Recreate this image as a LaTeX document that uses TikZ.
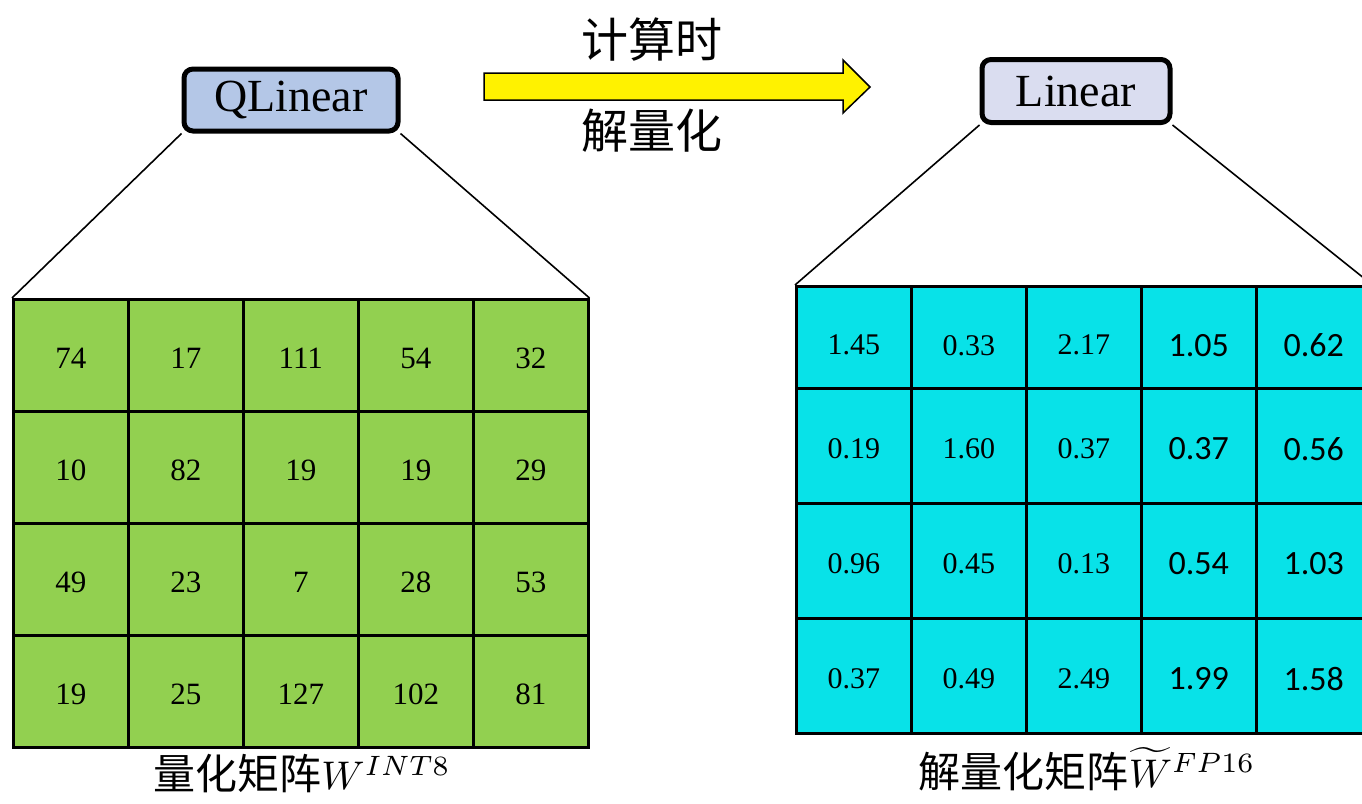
\documentclass[tikz,border=0pt]{standalone}
\usepackage{graphicx}
\usepackage{fontspec}
\newfontfamily\cjk{Noto Sans CJK SC}
\newfontfamily\tnr{Liberation Serif}
\newfontfamily\carl{Carlito}
\definecolor{matgreen}{RGB}{146,208,80}
\definecolor{matcyan}{RGB}{8,226,232}
\definecolor{qblue}{RGB}{180,199,231}
\definecolor{lblue}{RGB}{218,221,240}
\newcommand{\bigmath}[1]{{\fontsize{10}{12}\selectfont\scalebox{4.0}{$#1$}}}
\begin{document}
\begin{tikzpicture}[x=1pt,y=-1pt,
  cellbox/.style={draw, line width=2.5pt, inner sep=0pt, anchor=north west, minimum width=115pt},
  celltext/.style={inner sep=0pt},
  rbox/.style={draw, line width=5pt, rounded corners=9pt, inner sep=0pt, font=\tnr\fontsize{46}{46}\selectfont},
  conn/.style={line width=1.6pt},
  cjklabel/.style={font=\cjk\fontsize{47}{47}\selectfont, inner sep=0pt},
  botlabel/.style={font=\cjk\fontsize{42}{42}\selectfont, inner sep=0pt}]
\clip (0,0) rectangle (1362,803);
% left matrix
\foreach \vals [count=\r] in {{74,17,111,54,32},{10,82,19,19,29},{49,23,7,28,53},{19,25,127,102,81}}{
  \foreach \v [count=\c] in \vals {
    \node[cellbox, fill=matgreen, minimum height=112pt]
      (L-\r-\c) at ({12+115*(\c-1)},{298+112*(\r-1)}) {};
    \node[celltext, font=\tnr\fontsize{31}{31}\selectfont] (Lt-\r-\c) at ([yshift=-3pt]L-\r-\c.center) {\v};
  }
}
% right matrix
\foreach \top/\h/\dy/\vals [count=\r] in {285/102/8/{1.45,0.33,2.17,1.05,0.62},387/115/3/{0.19,1.60,0.37,0.37,0.56},502/115/3/{0.96,0.45,0.13,0.54,1.03},617/115/3/{0.37,0.49,2.49,1.99,1.58}}{
  \foreach \v [count=\c] in \vals {
    \node[cellbox, fill=matcyan, minimum height=\h pt]
      (R-\r-\c) at ({795+115*(\c-1)},\top) {};
    \node[celltext] (Rt-\r-\c) at ([yshift=-\dy pt]R-\r-\c.center) {\ifnum\c>3 \carl\fontsize{34}{34}\selectfont\else\tnr\fontsize{30}{30}\selectfont\fi\v};
  }
}
% boxes
\node[rbox, fill=qblue, minimum width=214pt, minimum height=62pt] (ql) at (291,100) {QLinear};
\node[rbox, fill=lblue, minimum width=188pt, minimum height=63pt] (lin) at (1076,91) {Linear};
% connectors
\draw[conn] (ql.south west) -- (L-1-1.north west);
\draw[conn] (ql.south east) -- (L-1-5.north east);
\draw[conn] (lin.south west) -- (R-1-1.north west);
\draw[conn] (lin.south east) -- (R-1-5.north east);
% arrow
\draw[fill=yellow, line width=1.5pt, line join=miter] (484,73) -- (843,73) -- (843,60) -- (870,87) -- (843,113) -- (843,100) -- (484,100) -- cycle;
\node[cjklabel] (t1) at (652,40) {计算时};
\node[cjklabel] (t2) at (652,131) {解量化};
% bottom labels
\node[botlabel] (bl) at (302,774) {量化矩阵\bigmath{W^{INT8}}};
\node[botlabel] (br) at (1087,769) {解量化矩阵\bigmath{\widetilde{W}^{FP16}}};
\end{tikzpicture}
\end{document}
